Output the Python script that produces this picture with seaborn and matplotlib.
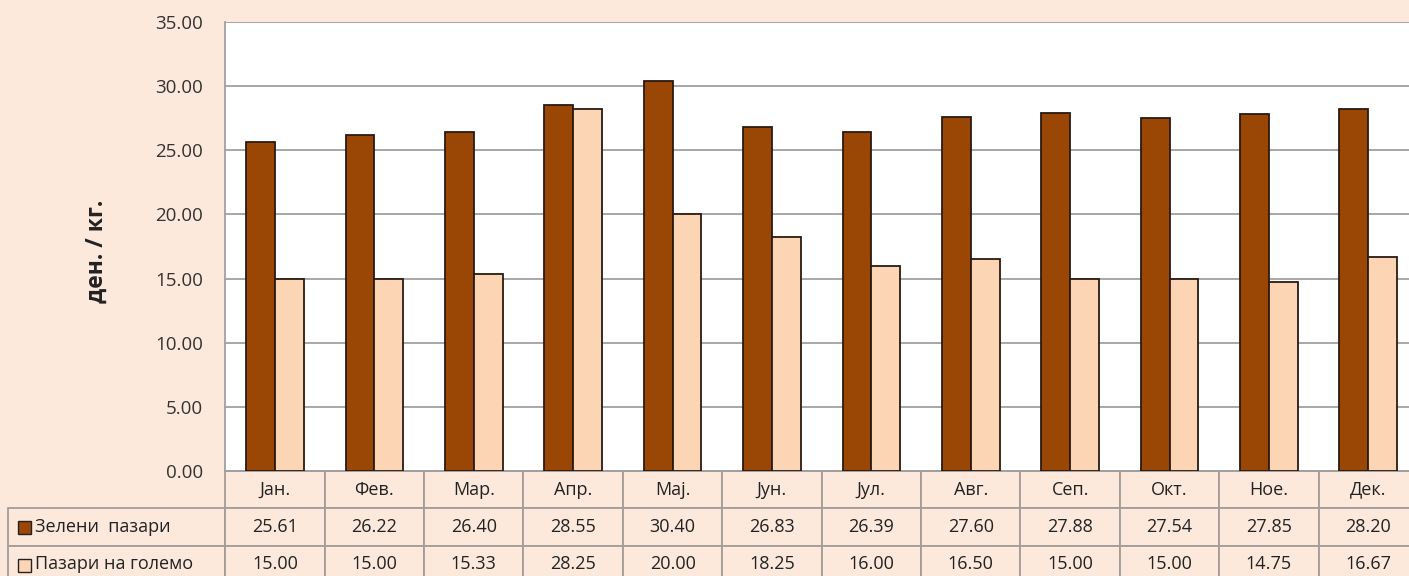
import pandas as pd
import numpy as np
import matplotlib
matplotlib.use("Agg")
import matplotlib.pyplot as plt
import matplotlib.patches as mpatches
import seaborn as sns

# chart data
months = ['Јан.', 'Фев.', 'Мар.', 'Апр.', 'Мај.', 'Јун.', 'Јул.', 'Авг.', 'Сеп.', 'Окт.', 'Ное.', 'Дек.']
series_names = ['Зелени  пазари', 'Пазари на големо']
green_markets = [25.61, 26.22, 26.40, 28.55, 30.40, 26.83, 26.39, 27.60, 27.88, 27.54, 27.85, 28.20]
wholesale_markets = [15.00, 15.00, 15.33, 28.25, 20.00, 18.25, 16.00, 16.50, 15.00, 15.00, 14.75, 16.67]
y_ticks = [0, 5, 10, 15, 20, 25, 30, 35]
y_label = 'ден. / кг.'

bg = '#FCE9DC'
dark = '#9A4706'
light = '#FCD5B4'
grid_col = '#A0A0A0'

df = pd.DataFrame({
    'month': months * 2,
    'value': green_markets + wholesale_markets,
    'series': [series_names[0]] * 12 + [series_names[1]] * 12,
})

sns.set_style('white')
plt.rcParams['font.family'] = ['Open Sans', 'DejaVu Sans']

W, H = 1409, 576
fig = plt.figure(figsize=(W / 100, H / 100), dpi=100, facecolor=bg)

# plot area in pixels (right side runs past the picture edge)
ax_left, ax_right, ax_top, ax_bottom = 225.3, 1418.0, 22.0, 471.0
ax = fig.add_axes([ax_left / W, (H - ax_bottom) / H,
                   (ax_right - ax_left) / W, (ax_bottom - ax_top) / H])
ax.set_facecolor('white')

sns.barplot(data=df, x='month', y='value', hue='series', order=months,
            palette=[dark, light], saturation=1, width=0.58, gap=0,
            edgecolor='#2B1A10', linewidth=1.3, legend=False, ax=ax, zorder=3)

ax.set_ylim(0, 35)
ax.set_xlim(-0.5, 11.5)
ax.set_yticks(y_ticks)
ax.set_yticklabels([f'{v:.2f}' for v in y_ticks], fontsize=13.5, color='#333333')
ax.tick_params(axis='y', length=0, pad=16)
ax.set_xticks([])
ax.set_xlabel('')
ax.set_ylabel(y_label, fontsize=16.5, fontweight='bold', color='#222222')
ax.yaxis.set_label_coords(-0.098, 0.49)
ax.yaxis.grid(True, color=grid_col, linewidth=1.3, zorder=0)
ax.set_axisbelow(True)
for side in ['top', 'right']:
    ax.spines[side].set_visible(False)
ax.spines['left'].set_color(grid_col)
ax.spines['left'].set_linewidth(1.3)
ax.spines['bottom'].set_color(grid_col)
ax.spines['bottom'].set_linewidth(1.3)

# data table below the plot
ax_w = ax_right - ax_left
ax_h = ax_bottom - ax_top
tbl_left = 8.0
tbl_bottom = 583.0
label_w = ax_left - tbl_left
col_w = ax_w / 12
cell_text = [[series_names[0]] + [f'{v:.2f}' for v in green_markets],
             [series_names[1]] + [f'{v:.2f}' for v in wholesale_markets]]
table = ax.table(cellText=cell_text, colLabels=[''] + months,
                 colWidths=[label_w] + [col_w] * 12, cellLoc='center',
                 bbox=[(tbl_left - ax_left) / ax_w, -(tbl_bottom - ax_bottom) / ax_h,
                       (ax_right - tbl_left) / ax_w, (tbl_bottom - ax_bottom) / ax_h])
table.auto_set_font_size(False)
table.set_fontsize(13)
for (r, c), cell in table.get_celld().items():
    cell.set_facecolor(bg)
    cell.set_edgecolor('#A39C97')
    cell.set_linewidth(1.3)
    cell.get_text().set_color('#222222')
    if r == 0 and c == 0:
        cell.visible_edges = ''
    if r > 0 and c == 0:
        cell._loc = 'left'
        cell.PAD = 0.125
        cell.get_text().set_ha('left')

# legend keys inside the row labels
key = 13
for i, col in enumerate([dark, light]):
    cy = 527 + i * 38
    fig.patches.append(mpatches.Rectangle(
        (18 / W, (H - cy - key / 2) / H), key / W, key / H,
        transform=fig.transFigure, facecolor=col, edgecolor='#222222',
        linewidth=1.0, figure=fig))

fig.savefig('out.png', dpi=100, facecolor=bg)
